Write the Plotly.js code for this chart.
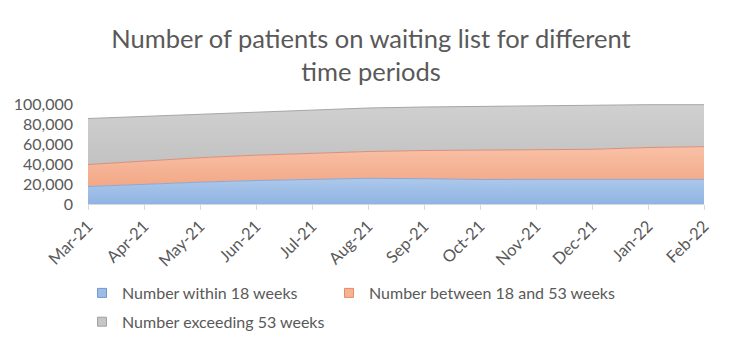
<!DOCTYPE html>
<html>
<head>
<meta charset="utf-8">
<script src="https://cdn.plot.ly/plotly-3.0.1.min.js"></script>
<style>html,body{margin:0;padding:0;background:#fff;}#chart{width:729px;height:351px;}</style>
</head>
<body>
<div id="chart"></div>
<script>
var months = ["Mar-21","Apr-21","May-21","Jun-21","Jul-21","Aug-21","Sep-21","Oct-21","Nov-21","Dec-21","Jan-22","Feb-22"];
var within18 = [17500,19800,21800,23500,24700,25700,25300,24500,24600,24600,24600,24600];
var between18and53 = [22000,23400,24500,25300,26000,26800,28200,29200,29400,30100,31900,32700];
var exceeding53 = [46000,44300,43200,42800,43100,43500,43500,44000,44200,44000,42800,42000];
var seriesNames = ["Number within 18 weeks","Number between 18 and 53 weeks","Number exceeding 53 weeks"];

var font = "Lato, 'Open Sans', sans-serif";
var fills = [["#adc8eb", "#8fb4e2"], ["#f9c0a6", "#f2a886"], ["#d0d0d0", "#c2c2c2"]];
var lines = ["#8aa9d6", "#d9907a", "#a6a6a6"];
var legendFill = ["#9dbde7", "#f6b394", "#c6c6c6"];
var legendLine = ["#6f97cf", "#e68a62", "#a0a0a0"];
var legendRef = ["legend", "legend2", "legend"];
var ys = [within18, between18and53, exceeding53];

var data = [];
ys.forEach(function (y, i) {
  data.push({
    x: months, y: y, name: seriesNames[i], type: "scatter", mode: "lines",
    stackgroup: "one", showlegend: false,
    line: {color: lines[i], width: 1},
    fillcolor: fills[i][0],
    fillgradient: {type: "vertical", colorscale: [[0, fills[i][1]], [1, fills[i][0]]]}
  });
});
ys.forEach(function (y, i) {
  data.push({
    x: [null], y: [null], name: seriesNames[i], type: "scatter", mode: "markers",
    showlegend: true, legend: legendRef[i], legendgroup: "g" + i,
    marker: {symbol: "square", size: 9, color: legendFill[i], line: {color: legendLine[i], width: 1}}
  });
});

var legendFont = {family: font, size: 16, color: "#595959"};
var layout = {
  width: 729, height: 351,
  margin: {l: 88, r: 25, t: 104, b: 147},
  paper_bgcolor: "#ffffff", plot_bgcolor: "#ffffff",
  font: {family: font, color: "#595959", size: 14},
  title: {text: "Number of patients on waiting list for different<br>time periods",
          font: {family: font, size: 25.5, color: "#595959"},
          x: 0.509, xref: "container", xanchor: "center",
          y: 1 - 48 / 351, yref: "container", yanchor: "top"},
  showlegend: true,
  legend: {orientation: "v", x: -0.0097, xref: "paper", xanchor: "left",
           y: 1 - 276 / 351, yref: "container", yanchor: "top",
           itemwidth: 30, tracegroupgap: 5, font: legendFont,
           traceorder: "grouped", bgcolor: "rgba(0,0,0,0)"},
  legend2: {orientation: "v", x: 0.3912, xref: "paper", xanchor: "left",
           y: 1 - 276 / 351, yref: "container", yanchor: "top",
           itemwidth: 30, font: legendFont, bgcolor: "rgba(0,0,0,0)"},
  xaxis: {type: "category", range: [0, 11], showgrid: false, automargin: false,
          showline: true, linecolor: "#d9d9d9", linewidth: 1,
          ticks: "outside", ticklen: 5, tickcolor: "#d9d9d9",
          tickangle: -45, tickfont: {family: font, size: 16.5, color: "#595959"}},
  yaxis: {range: [0, 100000], dtick: 20000, tickformat: ",d", automargin: false,
          showgrid: true, gridcolor: "#d9d9d9", gridwidth: 1, zeroline: false,
          showline: false, ticks: "", ticklabelstandoff: 14,
          tickfont: {family: font, size: 16, color: "#595959"}}
};
Plotly.newPlot("chart", data, layout, {displayModeBar: false, staticPlot: true});
</script>
</body>
</html>
